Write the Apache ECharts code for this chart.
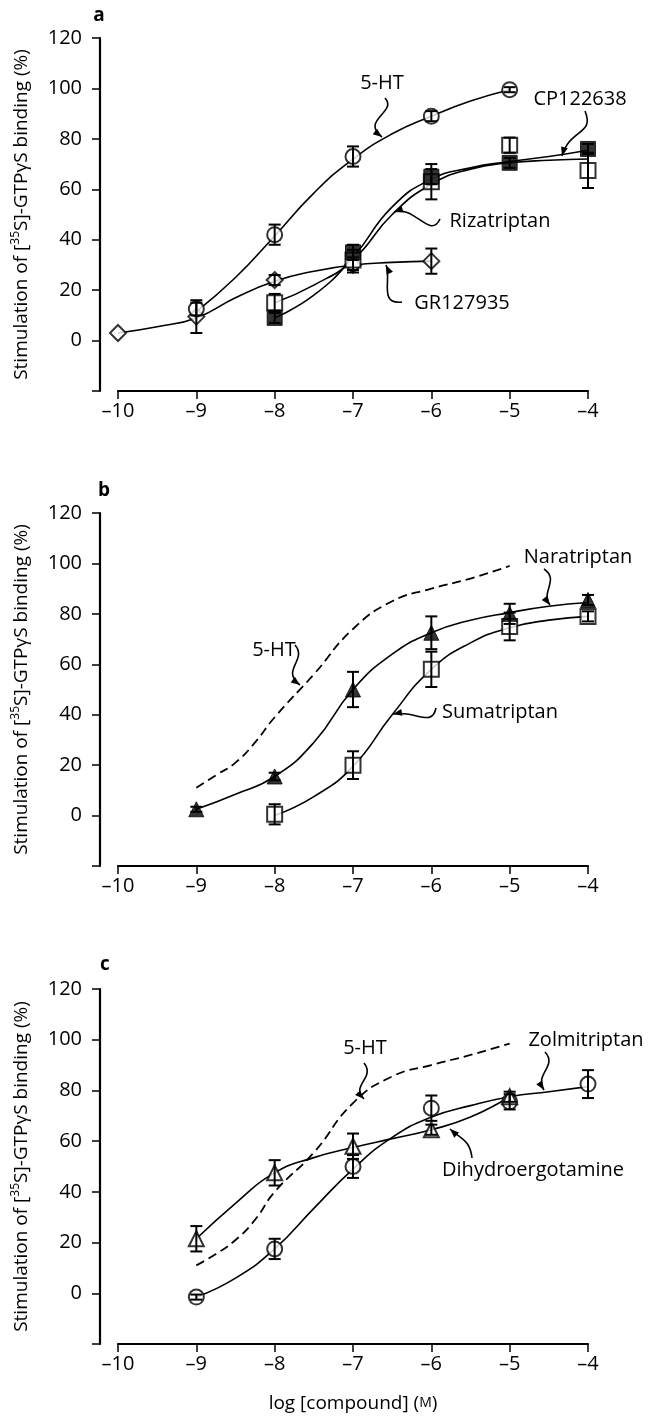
<!DOCTYPE html>
<html>
<head>
<meta charset="utf-8">
<script src="https://cdn.jsdelivr.net/npm/echarts@6.0.0/dist/echarts.min.js"></script>
<style>
  html, body { margin: 0; padding: 0; background: #fff; }
  #chart { width: 650px; height: 1418px; }
</style>
</head>
<body>
<div id="chart"></div>
<script>
// ---- data (log [compound] in M, % stimulation) ----
// panel a
const a5htX = [-9, -8, -7, -6, -5];
const a5htY = [12.5, 42, 73, 89, 99.5];
const a5htErr = [2.5, 4, 4, 2, 1];
const aCpX = [-8, -7, -6, -5, -4];
const aCpY = [9, 35, 65, 70.5, 76];
const aCpErr = [2, 3, 3, 2, 2];
const aRizaX = [-8, -7, -6, -5, -4];
const aRizaY = [15, 32, 63, 77.5, 67.5];
const aRizaErr = [3.5, 4, 7, 3, 7];
const aGrX = [-10, -9, -8, -7, -6];
const aGrY = [3, 9.5, 24, 30, 31.5];
const aGrErr = [0, 6.5, 2, 3, 5];
// fitted curves, panel a
const aFit5htX = [-9, -8.5, -8, -7.5, -7, -6.5, -6, -5.5, -5];
const aFit5htY = [11.5, 25, 41.5, 58.5, 72, 82, 89, 95, 99.5];
const aFitCpX = [-8, -7.5, -7, -6.5, -6, -5.5, -5, -4.5, -4];
const aFitCpY = [9, 18, 33, 53, 64, 68.5, 71, 73, 75.5];
const aFitRizaX = [-8, -7.5, -7, -6.5, -6, -5.5, -5, -4.5, -4];
const aFitRizaY = [15, 22, 32, 50, 62, 68, 70.5, 71.5, 72];
const aFitGrX = [-10, -9.5, -9, -8.5, -8, -7.5, -7, -6.5, -6];
const aFitGrY = [3, 5.5, 9, 17, 23.5, 27.5, 30, 31, 31.5];

// panel b
const bNaraX = [-9, -8, -7, -6, -5, -4];
const bNaraY = [2.5, 15.5, 50, 72.5, 80, 85.5];
const bNaraErr = [1, 1.5, 7, 6.5, 4, 2];
const bSumaX = [-8, -7, -6, -5, -4];
const bSumaY = [0.5, 20, 58, 75, 79];
const bSumaErr = [4, 5.5, 7, 5.5, 2];
const bFit5htX = [-9, -8.75, -8.5, -8.25, -8, -7.5, -7, -6.5, -6, -5.5, -5];
const bFit5htY = [11, 16, 21, 29, 39, 56, 74, 85, 90, 94, 99];
const bFitNaraX = [-9, -8.5, -8, -7.5, -7, -6.5, -6, -5.5, -5, -4.5, -4];
const bFitNaraY = [2.5, 8.5, 15.5, 29, 50, 64, 72.5, 77.5, 80.5, 83, 84.5];
const bFitSumaX = [-8, -7.5, -7, -6.5, -6, -5.5, -5, -4.5, -4];
const bFitSumaY = [0, 7.5, 19.5, 40, 58, 68.5, 74.5, 77.5, 79];

// panel c
const cZolmX = [-9, -8, -7, -6, -5, -4];
const cZolmY = [-1.5, 17.5, 50, 73, 75.5, 82.5];
const cZolmErr = [1, 4, 4.5, 5, 3, 5.5];
const cDheX = [-9, -8, -7, -6, -5];
const cDheY = [21.5, 47.5, 58, 64.5, 77.5];
const cDheErr = [5, 5, 5, 2, 2];
const cFit5htX = [-9, -8.75, -8.5, -8.25, -8, -7.5, -7, -6.5, -6, -5.5, -5];
const cFit5htY = [11, 15.5, 21, 29, 40, 55.5, 75, 85.5, 90, 94, 98.5];
const cFitZolmX = [-9, -8.5, -8, -7.5, -7, -6.5, -6, -5.5, -5, -4.5, -4];
const cFitZolmY = [-1.5, 6, 17.5, 33.5, 49, 61.5, 69.5, 74, 77.5, 79.5, 81.5];
const cFitDheX = [-9, -8.5, -8, -7.5, -7, -6.5, -6, -5.5, -5];
const cFitDheY = [21.5, 35.5, 47.5, 53.5, 57.5, 61, 64.5, 69.5, 77.5];

const FONT = 'Open Sans';
const panelTops = [38, 513, 989];
const panelHeights = [353, 353, 355];

const pairs = (xs, ys) => xs.map((x, i) => [x, ys[i]]);

function fitLine(idx, xs, ys, dashed) {
  return {
    type: 'line', xAxisIndex: idx, yAxisIndex: idx,
    data: pairs(xs, ys), smooth: true, symbol: 'none', silent: true, z: 2,
    lineStyle: { color: '#000', width: dashed ? 1.8 : 1.6, type: dashed ? [9, 5] : 'solid' }
  };
}

function points(idx, xs, ys, symbol, filled, size, z) {
  return {
    type: 'scatter', xAxisIndex: idx, yAxisIndex: idx,
    data: pairs(xs, ys), symbol: symbol, symbolSize: size, z: z, silent: true,
    itemStyle: filled
      ? { color: '#000', borderColor: '#000', borderWidth: 1 }
      : { color: '#fff', borderColor: '#000', borderWidth: 2 }
  };
}

function errBars(idx, xs, ys, es, z) {
  const data = xs.map((x, i) => [x, ys[i] - es[i], ys[i] + es[i]]).filter((d, i) => es[i] > 0);
  return {
    type: 'custom', xAxisIndex: idx, yAxisIndex: idx, z: z, silent: true,
    encode: { x: 0, y: [1, 2] },
    data: data,
    renderItem: function (params, api) {
      const x = api.value(0);
      const top = api.coord([x, api.value(2)]);
      const bot = api.coord([x, api.value(1)]);
      const w = 6;
      const st = { stroke: '#000', lineWidth: 2 };
      return {
        type: 'group',
        children: [
          { type: 'line', shape: { x1: top[0], y1: top[1], x2: bot[0], y2: bot[1] }, style: st },
          { type: 'line', shape: { x1: top[0] - w, y1: top[1], x2: top[0] + w, y2: top[1] }, style: st },
          { type: 'line', shape: { x1: bot[0] - w, y1: bot[1], x2: bot[0] + w, y2: bot[1] }, style: st }
        ]
      };
    }
  };
}

const grids = panelTops.map((t, i) => ({ left: 118, right: 62, top: t, height: panelHeights[i] }));

const xAxes = [0, 1, 2].map(i => ({
  type: 'value', gridIndex: i, min: -10, max: -4, interval: 1,
  axisLine: { show: true, onZero: false, lineStyle: { color: '#000', width: 2.2 } },
  axisTick: { show: true, length: 8, lineStyle: { color: '#000', width: 1.5 } },
  axisLabel: {
    color: '#000', fontSize: 20, fontFamily: FONT, margin: 10,
    formatter: v => String(v).replace('-', '\u2013')
  },
  splitLine: { show: false },
  name: i === 2 ? 'log [compound] ({m|M})' : '',
  nameLocation: 'middle', nameGap: 50,
  nameTextStyle: {
    color: '#000', fontSize: 19, fontFamily: FONT,
    rich: { m: { fontSize: 14, fontFamily: FONT, color: '#000' } }
  }
}));

const yAxes = [0, 1, 2].map(i => ({
  type: 'value', gridIndex: i, min: -20, max: 120, interval: 20, offset: 18,
  axisLine: { show: true, onZero: false, lineStyle: { color: '#000', width: 2.2 } },
  axisTick: { show: true, length: 8, lineStyle: { color: '#000', width: 1.5 } },
  axisLabel: {
    color: '#000', fontSize: 20, fontFamily: FONT, margin: 18,
    formatter: v => (v < 0 ? '' : String(v))
  },
  splitLine: { show: false },
  name: '{n|Stimulation of [}{s|35}{n|S]-GTP\u03b3S binding (%)}',
  nameLocation: 'middle', nameGap: 66,
  nameTextStyle: {
    color: '#000',
    rich: {
      n: { fontSize: 19, fontFamily: FONT, color: '#000', lineHeight: 24 },
      s: { fontSize: 12, fontFamily: FONT, color: '#000', lineHeight: 12, verticalAlign: 'top' }
    }
  }
}));

const series = [
  // panel a
  fitLine(0, aFitGrX, aFitGrY), fitLine(0, aFit5htX, aFit5htY),
  fitLine(0, aFitCpX, aFitCpY), fitLine(0, aFitRizaX, aFitRizaY),
  points(0, aGrX, aGrY, 'diamond', false, 16, 3),
  points(0, a5htX, a5htY, 'circle', false, 15, 3),
  points(0, aRizaX, aRizaY, 'rect', false, 15, 4),
  points(0, aCpX, aCpY, 'rect', true, 15, 5),
  errBars(0, aGrX, aGrY, aGrErr, 6), errBars(0, a5htX, a5htY, a5htErr, 6),
  errBars(0, aRizaX, aRizaY, aRizaErr, 6), errBars(0, aCpX, aCpY, aCpErr, 6),
  // panel b
  fitLine(1, bFit5htX, bFit5htY, true),
  fitLine(1, bFitNaraX, bFitNaraY), fitLine(1, bFitSumaX, bFitSumaY),
  points(1, bSumaX, bSumaY, 'rect', false, 15, 3),
  points(1, bNaraX, bNaraY, 'triangle', true, 15, 4),
  errBars(1, bSumaX, bSumaY, bSumaErr, 6), errBars(1, bNaraX, bNaraY, bNaraErr, 6),
  // panel c
  fitLine(2, cFit5htX, cFit5htY, true),
  fitLine(2, cFitZolmX, cFitZolmY), fitLine(2, cFitDheX, cFitDheY),
  points(2, cZolmX, cZolmY, 'circle', false, 15, 3),
  points(2, cDheX, cDheY, 'triangle', false, 15, 4),
  errBars(2, cZolmX, cZolmY, cZolmErr, 6), errBars(2, cDheX, cDheY, cDheErr, 6)
];

// annotations: label, label centre, squiggle (cubic bezier) ending in an arrowhead
const notes = [
  { t: '5-HT', x: 382, y: 83, c: [385, 98, 398, 112, 360, 120, 382, 137] },
  { t: 'CP122638', x: 580, y: 99, c: [585, 111, 595, 135, 570, 128, 562, 156] },
  { t: 'Rizatriptan', x: 500, y: 221, c: [440, 219, 430, 240, 415, 205, 394, 212] },
  { t: 'GR127935', x: 462, y: 303, c: [402, 302, 378, 305, 392, 278, 386, 265] },
  { t: 'Naratriptan', x: 578, y: 557, c: [544, 569, 560, 580, 540, 592, 550, 605] },
  { t: '5-HT', x: 274, y: 650, c: [295, 645, 308, 660, 280, 670, 300, 685] },
  { t: 'Sumatriptan', x: 500, y: 712, c: [436, 708, 432, 728, 415, 710, 393, 714] },
  { t: '5-HT', x: 365, y: 1048, c: [364, 1063, 376, 1078, 350, 1085, 364, 1099] },
  { t: 'Zolmitriptan', x: 586, y: 1040, c: [545, 1052, 558, 1066, 534, 1074, 544, 1090] },
  { t: 'Dihydroergotamine', x: 533, y: 1170, c: [472, 1158, 470, 1140, 462, 1140, 450, 1129] }
];

const graphics = [];
notes.forEach(n => {
  const c = n.c;
  graphics.push({
    type: 'text', silent: true,
    style: { text: n.t, x: n.x, y: n.y, fill: '#000', fontSize: 20, fontFamily: FONT, align: 'center', verticalAlign: 'middle' }
  });
  graphics.push({
    type: 'bezierCurve', silent: true,
    shape: { x1: c[0], y1: c[1], cpx1: c[2], cpy1: c[3], cpx2: c[4], cpy2: c[5], x2: c[6], y2: c[7] },
    style: { stroke: '#000', lineWidth: 1.6, fill: null }
  });
  // arrowhead along the last control direction
  const dx = c[6] - c[4], dy = c[7] - c[5];
  const len = Math.sqrt(dx * dx + dy * dy);
  const ux = dx / len, uy = dy / len;
  const bx = c[6] - ux * 9, by = c[7] - uy * 9;
  graphics.push({
    type: 'polygon', silent: true,
    shape: { points: [[c[6], c[7]], [bx - uy * 3.5, by + ux * 3.5], [bx + uy * 3.5, by - ux * 3.5]] },
    style: { fill: '#000' }
  });
});

[['a', 99, 16], ['b', 104, 491], ['c', 105, 965]].forEach(p => {
  graphics.push({
    type: 'text', silent: true,
    style: { text: p[0], x: p[1], y: p[2], fill: '#000', fontSize: 19, fontWeight: 'bold', fontFamily: FONT, align: 'center', verticalAlign: 'middle' }
  });
});

const chart = echarts.init(document.getElementById('chart'));
chart.setOption({
  animation: false,
  backgroundColor: '#fff',
  textStyle: { fontFamily: FONT },
  grid: grids,
  xAxis: xAxes,
  yAxis: yAxes,
  series: series,
  graphic: graphics
});
</script>
</body>
</html>
